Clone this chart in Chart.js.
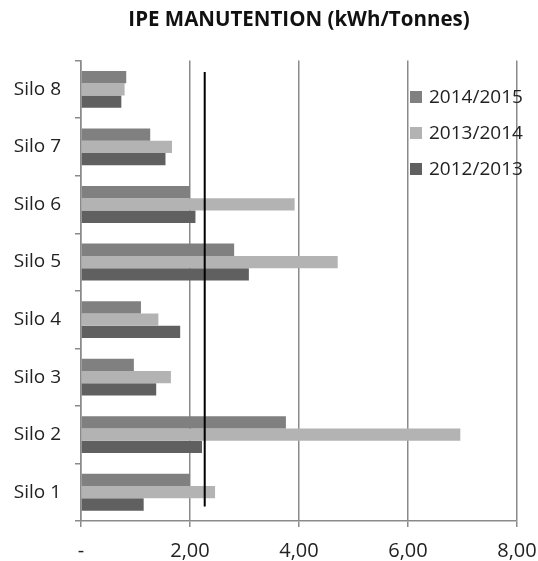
<!DOCTYPE html>
<html>
<head>
<meta charset="utf-8">
<script src="https://cdn.jsdelivr.net/npm/chart.js@4/dist/chart.umd.min.js"></script>
<style>
  html, body { margin: 0; padding: 0; background: #fff; }
  #wrap { width: 538px; height: 561px; }
</style>
</head>
<body>
<div id="wrap"><canvas id="ChartIPE"></canvas></div>
<script>
const silos = ['Silo 1', 'Silo 2', 'Silo 3', 'Silo 4', 'Silo 5', 'Silo 6', 'Silo 7', 'Silo 8'];
const values1415 = [2.00, 3.76, 0.97, 1.10, 2.81, 2.00, 1.27, 0.83];
const values1314 = [2.46, 6.96, 1.65, 1.42, 4.71, 3.92, 1.67, 0.80];
const values1213 = [1.15, 2.22, 1.38, 1.82, 3.08, 2.10, 1.55, 0.74];
const seriesNames = ['2014/2015', '2013/2014', '2012/2013'];
const xTickLabels = ['-', '2,00', '4,00', '6,00', '8,00'];
const refValue = 2.27;

const FONT = 'Open Sans';

// black vertical reference line
const refLine = {
  id: 'refLine',
  afterDatasetsDraw(chart) {
    const { ctx, scales: { x, y } } = chart;
    const px = x.getPixelForValue(refValue);
    ctx.save();
    ctx.strokeStyle = '#000';
    ctx.lineWidth = 2;
    ctx.beginPath();
    ctx.moveTo(px, y.getPixelForValue(silos.length - 1 + 0.3));
    ctx.lineTo(px, y.getPixelForValue(-0.25));
    ctx.stroke();
    ctx.restore();
  }
};

// legend drawn inside the plot, over the grid
const innerLegend = {
  id: 'innerLegend',
  afterDraw(chart) {
    const ctx = chart.ctx;
    ctx.save();
    ctx.font = '19px "' + FONT + '"';
    ctx.textBaseline = 'middle';
    chart.data.datasets.forEach((ds, i) => {
      const yy = 97 + i * 36;
      ctx.fillStyle = ds.backgroundColor;
      ctx.fillRect(410, yy - 6, 12, 12);
      ctx.fillStyle = '#222';
      ctx.fillText(ds.label, 429, yy + 1);
    });
    ctx.restore();
  }
};

new Chart(document.getElementById('ChartIPE').getContext('2d'), {
  type: 'bar',
  data: {
    labels: silos,
    datasets: [
      { label: seriesNames[0], data: values1415, backgroundColor: '#808080' },
      { label: seriesNames[1], data: values1314, backgroundColor: '#b3b3b3' },
      { label: seriesNames[2], data: values1213, backgroundColor: '#606060' }
    ]
  },
  options: {
    animation: false,
    responsive: true,
    maintainAspectRatio: false,
    indexAxis: 'y',
    categoryPercentage: 0.64,
    barPercentage: 1.0,
    layout: { padding: { left: 0, right: 21, top: 0, bottom: 0 } },
    plugins: {
      legend: { display: false },
      tooltip: { enabled: false },
      title: {
        display: true,
        fullSize: false,
        text: 'IPE MANUTENTION (kWh/Tonnes)',
        color: '#111',
        font: { family: FONT, size: 20.5, weight: 'bold' },
        padding: { top: 8, bottom: 28 }
      }
    },
    scales: {
      x: {
        min: 0,
        max: 8,
        ticks: {
          stepSize: 2,
          color: '#222',
          font: { family: FONT, size: 20 },
          padding: 12,
          callback: (v, i) => xTickLabels[i]
        },
        grid: { color: '#8a8a8a', lineWidth: 1.5, tickLength: 6 },
        border: { color: '#8a8a8a', width: 1.5 },
        afterFit: (s) => { s.height = 40; s.paddingLeft = 0; s.paddingRight = 0; }
      },
      y: {
        reverse: true,
        ticks: {
          color: '#222',
          font: { family: FONT, size: 19 },
          padding: 14
        },
        grid: { drawOnChartArea: false, color: '#8a8a8a', lineWidth: 1.5, tickLength: 6 },
        border: { color: '#8a8a8a', width: 1.5 },
        afterFit: (s) => { s.width = 81; s.paddingTop = 0; s.paddingBottom = 0; }
      }
    }
  },
  plugins: [refLine, innerLegend]
});
</script>
</body>
</html>
